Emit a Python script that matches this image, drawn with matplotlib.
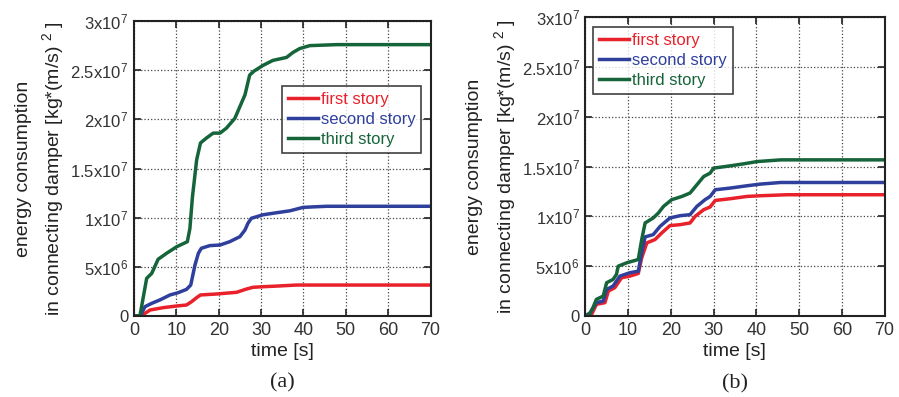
import matplotlib
matplotlib.use('Agg')
import matplotlib.pyplot as plt

# ---- data: cumulative damper energy [kg*(m/s)^2] vs time [s] ----
# case (a)
t_a_first = [0, 2.0, 2.6, 3.8, 6.9, 10.1, 12.4, 13.6, 14.8, 15.7, 19.5, 24.2, 26.6, 28.1, 30.5, 34.0, 38.3, 70]
e_a_first = [0, 0, 0.27e6, 0.61e6, 0.85e6, 1.02e6, 1.12e6, 1.46e6, 1.87e6, 2.14e6, 2.24e6, 2.41e6, 2.75e6,
             2.92e6, 2.98e6, 3.05e6, 3.15e6, 3.15e6]

t_a_second = [0, 1.5, 2.6, 4.2, 6.1, 8.5, 10.4, 12.4, 13.4, 14.4, 15.2, 15.9, 17.9, 20.3, 22.6, 25.0, 26.2,
              26.9, 27.7, 30.5, 33.6, 36.8, 39.9, 45.4, 70]
e_a_second = [0, 0, 0.95e6, 1.29e6, 1.63e6, 2.14e6, 2.37e6, 2.71e6, 3.15e6, 5.19e6, 6.38e6, 6.89e6, 7.16e6,
              7.22e6, 7.56e6, 8.07e6, 8.75e6, 9.43e6, 9.94e6, 10.3e6, 10.5e6, 10.7e6, 11.05e6, 11.16e6, 11.16e6]

t_a_third = [0, 1.4, 3.0, 4.2, 5.7, 7.7, 10.1, 12.6, 13.2, 13.8, 14.8, 15.7, 17.1, 18.7, 20.3, 21.8, 23.8,
             25.0, 26.2, 27.3, 28.3, 30.5, 32.8, 36.0, 37.5, 39.1, 41.5, 47.8, 70]
e_a_third = [0, 0, 3.83e6, 4.34e6, 5.77e6, 6.38e6, 7.05e6, 7.56e6, 8.9e6, 12.1e6, 15.9e6, 17.6e6, 18.1e6,
             18.6e6, 18.6e6, 19.1e6, 20.1e6, 21.3e6, 22.5e6, 24.5e6, 24.9e6, 25.5e6, 26.0e6, 26.3e6, 26.8e6,
             27.2e6, 27.5e6, 27.6e6, 27.6e6]

# case (b)
t_b_first = [0, 1.5, 2.6, 4.6, 5.4, 6.9, 8.5, 10.4, 12.4, 13.2, 14.4, 16.3, 17.9, 19.8, 22.2, 24.5, 25.7,
             27.7, 29.2, 30.4, 33.9, 37.8, 41.0, 47.2, 70]
e_b_first = [0, 0.17e6, 1.17e6, 1.34e6, 2.5e6, 2.84e6, 3.84e6, 4.0e6, 4.27e6, 5.84e6, 7.34e6, 7.67e6, 8.34e6,
             9.07e6, 9.17e6, 9.34e6, 10.0e6, 10.67e6, 10.94e6, 11.6e6, 11.77e6, 12.0e6, 12.07e6, 12.17e6,
             12.17e6]

t_b_second = [0, 1.2, 2.6, 4.2, 5.0, 6.5, 8.1, 10.4, 12.4, 13.2, 14.0, 15.9, 17.5, 19.8, 22.2, 24.5, 26.1,
              28.0, 29.2, 30.4, 33.9, 37.8, 41.0, 45.7, 70]
e_b_second = [0, 0.34e6, 1.34e6, 1.5e6, 2.67e6, 3.0e6, 4.0e6, 4.34e6, 4.5e6, 6.34e6, 7.94e6, 8.17e6, 9.0e6,
              9.84e6, 10.07e6, 10.17e6, 11.0e6, 11.67e6, 12.0e6, 12.67e6, 12.84e6, 13.07e6, 13.24e6, 13.4e6,
              13.4e6]

t_b_third = [0, 1.0, 1.8, 2.6, 4.2, 5.0, 6.5, 7.3, 7.7, 9.7, 12.4, 13.2, 14.0, 15.9, 17.1, 18.3, 20.2, 22.6,
             24.5, 26.1, 27.7, 29.2, 30.0, 33.9, 37.0, 40.2, 45.7, 70]
e_b_third = [0, 0.17e6, 0.84e6, 1.67e6, 2.0e6, 3.34e6, 3.67e6, 4.17e6, 5.0e6, 5.34e6, 5.67e6, 7.67e6, 9.34e6,
             9.84e6, 10.34e6, 11.0e6, 11.67e6, 12.0e6, 12.34e6, 13.17e6, 14.0e6, 14.34e6, 14.84e6, 15.07e6,
             15.27e6, 15.5e6, 15.67e6, 15.67e6]

labels = ['first story', 'second story', 'third story']
colors = ['#e8212b', '#2f3f9c', '#16653a']

y_ticks = [0, 5e6, 1e7, 1.5e7, 2e7, 2.5e7, 3e7]
y_ticklabels = ['0', '5x10$^6$', '1x10$^7$', '1.5x10$^7$', '2x10$^7$', '2.5x10$^7$', '3x10$^7$']
x_ticks = [0, 10, 20, 30, 40, 50, 60, 70]

plt.rcParams['font.family'] = 'Liberation Sans'
plt.rcParams['mathtext.fontset'] = 'custom'
plt.rcParams['mathtext.rm'] = 'Liberation Sans'
plt.rcParams['mathtext.default'] = 'regular'

fig = plt.figure(figsize=(8.99, 3.97), dpi=100)
ax_a = fig.add_axes([0.149, 0.204, 0.330, 0.743])
ax_b = fig.add_axes([0.651, 0.204, 0.333, 0.753])


def draw_panel(ax, series, legend_anchor, caption):
    for (t, e), lab, c in zip(series, labels, colors):
        ax.plot(t, e, color=c, lw=2.5, label=lab)
    ax.set_xlim(0, 70)
    ax.set_ylim(0, 3e7)
    ax.set_xticks(x_ticks)
    ax.set_yticks(y_ticks)
    ax.set_yticklabels(y_ticklabels)
    ax.tick_params(axis='y', labelsize=12)
    ax.tick_params(axis='x', labelsize=13)
    ax.tick_params(direction='in', top=True, right=True, length=5, width=1.2,
                   colors='#222222', labelcolor='#333333', pad=4)
    ax.grid(True, linestyle=':', color='#444444', lw=0.9)
    for s in ax.spines.values():
        s.set_linewidth(1.5)
        s.set_color('#222222')
    ax.set_xlabel('time [s]', fontsize=14, color='#222222', labelpad=3)
    ax.set_ylabel('energy consumption\nin connecting damper [kg*(m/s) $^2$ ]',
                  fontsize=14, color='#222222', labelpad=3, linespacing=1.45)
    leg = ax.legend(loc='upper left', bbox_to_anchor=legend_anchor, fontsize=12,
                    frameon=True, fancybox=False, handlelength=1.8, handletextpad=0.2,
                    borderpad=0.35, labelspacing=0.3, borderaxespad=0)
    leg.get_frame().set_edgecolor('#111111')
    leg.get_frame().set_linewidth(1.2)
    for txt, c in zip(leg.get_texts(), colors):
        txt.set_color(c)
    ax.text(0.5, -0.227, caption, transform=ax.transAxes, ha='center', va='center',
            fontsize=16, family='Liberation Serif', color='#222222')


draw_panel(ax_a, [(t_a_first, e_a_first), (t_a_second, e_a_second), (t_a_third, e_a_third)],
           (0.498, 0.780), '(a)')
draw_panel(ax_b, [(t_b_first, e_b_first), (t_b_second, e_b_second), (t_b_third, e_b_third)],
           (0.027, 0.967), '(b)')

fig.savefig('out.png', dpi=100)
